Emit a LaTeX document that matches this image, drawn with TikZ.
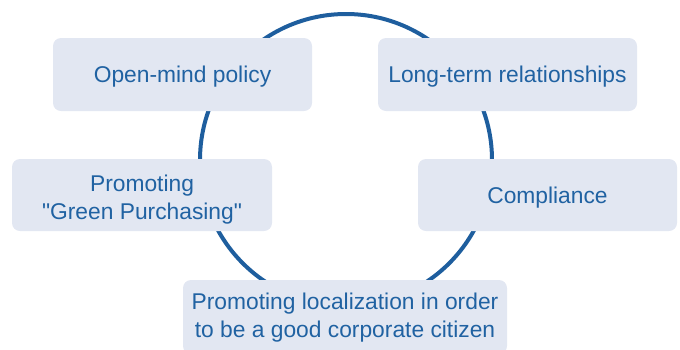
\documentclass[tikz,border=0pt]{standalone}
\usepackage{fontspec}
\newfontfamily\lsans{Liberation Sans}
\definecolor{ringblue}{RGB}{30,94,158}
\definecolor{textblue}{RGB}{32,98,162}
\definecolor{boxfill}{RGB}{226,231,242}
\begin{document}
\begin{tikzpicture}[x=1pt,y=-1pt,
  pfont/.style={text=textblue, align=center, font=\lsans\fontsize{22.8}{27.5}\selectfont},
  pbox/.style={pfont, fill=boxfill, draw=none, rounded corners=8pt, inner sep=0pt,
    text height=16.3pt, text depth=0pt},
  ptext/.style={pfont, inner sep=0pt, anchor=base},
  ring/.style={draw=ringblue, line width=4pt}]
\useasboundingbox (0,0) rectangle (680,349);
\begin{scope}
\clip (0,0) rectangle (680,349);
\coordinate (c) at (346,160);
\draw[ring] (c) circle (146pt);
\node[pbox, minimum width=259pt, minimum height=73pt] (open) at (182.5,74.5) {Open-mind policy};
\node[pbox, minimum width=259pt, minimum height=73pt] (long) at (507.5,74.5) {Long-term relationships};
\node[pbox, minimum width=260pt, minimum height=72pt] (green) at (142,195) {};
\node[ptext] (greentxt) at (142,219) {Promoting\\"Green Purchasing"};
\node[pbox, minimum width=259pt, minimum height=72pt] (comp) at (547.5,195) {Compliance};
\node[pbox, minimum width=324pt, minimum height=74pt] (local) at (345,317) {};
\node[ptext] (localtxt) at (345,337) {Promoting localization in order\\to be a good corporate citizen};
\end{scope}
\end{tikzpicture}
\end{document}
